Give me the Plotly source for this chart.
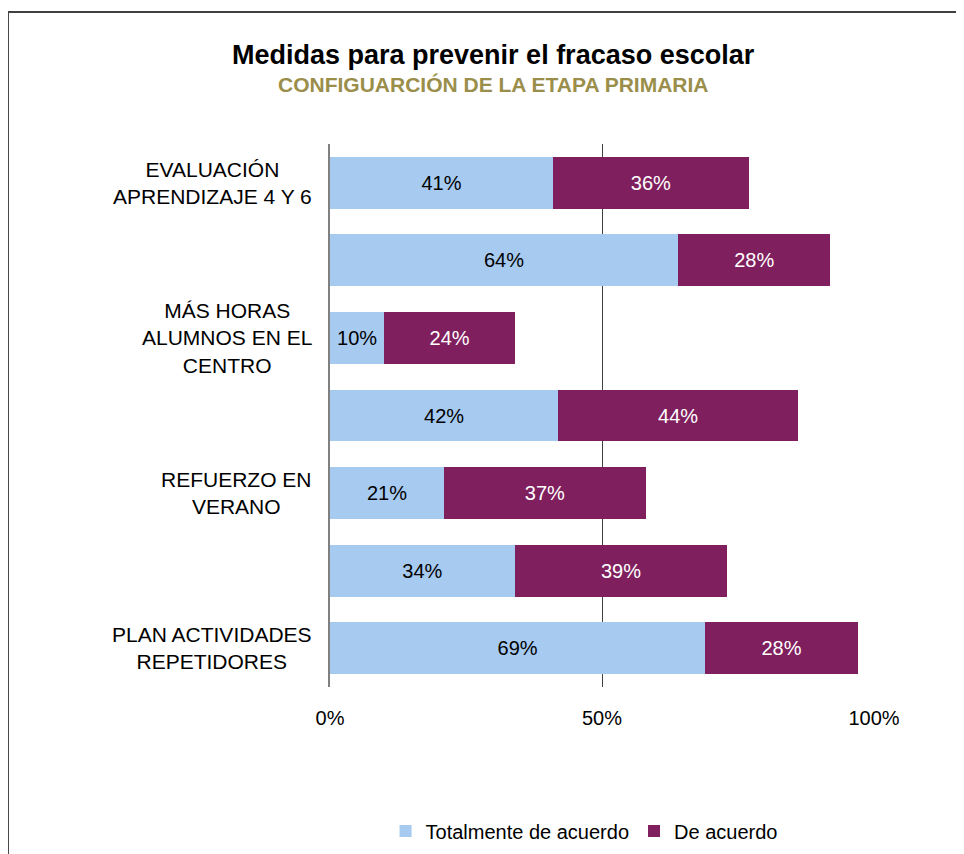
import plotly.graph_objects as go

# ---- data ----
category_labels = [
    "EVALUACIÓN<br>APRENDIZAJE 4 Y 6",
    "",
    "MÁS HORAS<br>ALUMNOS EN EL<br>CENTRO",
    "",
    "REFUERZO EN<br>VERANO",
    "",
    "PLAN ACTIVIDADES<br>REPETIDORES",
]
totalmente = [41, 64, 10, 42, 21, 34, 69]
de_acuerdo = [36, 28, 24, 44, 37, 39, 28]
x_ticks = [0, 50, 100]
x_ticklabels = ["0%", "50%", "100%"]

positions = list(range(len(category_labels)))

FONT = "Liberation Sans, Arial, sans-serif"
LIGHT = "#A6CAF0"
PURPLE = "#801F5E"

fig = go.Figure()
fig.add_trace(go.Bar(
    y=positions, x=totalmente, orientation="h", name="Totalmente de acuerdo",
    marker=dict(color=LIGHT, line=dict(width=0)),
    texttemplate="%{x:.0f}%", textposition="inside", insidetextanchor="middle",
    constraintext="none",
    textfont=dict(family=FONT, size=20, color="#000000"),
    hoverinfo="skip",
))
fig.add_trace(go.Bar(
    y=positions, x=de_acuerdo, orientation="h", name="De acuerdo",
    marker=dict(color=PURPLE, line=dict(width=0)),
    texttemplate="%{x:.0f}%", textposition="inside", insidetextanchor="middle",
    constraintext="none",
    textfont=dict(family=FONT, size=20, color="#FFFFFF"),
    hoverinfo="skip",
))

annotations = []
for pos, lab in zip(positions, category_labels):
    if lab:
        annotations.append(dict(
            xref="paper", yref="y", x=0, y=pos, xshift=-16,
            xanchor="right", yanchor="middle", align="center",
            text=lab, showarrow=False,
            font=dict(family=FONT, size=21, color="#000000"),
        ))
annotations.append(dict(
    xref="paper", yref="paper", x=0.301, y=1.164, xanchor="center", yanchor="middle",
    text="<b>Medidas para prevenir el fracaso escolar</b>", showarrow=False,
    font=dict(family=FONT, size=27, color="#000000"),
))
annotations.append(dict(
    xref="paper", yref="paper", x=0.301, y=1.109, xanchor="center", yanchor="middle",
    text="<b>CONFIGUARCIÓN DE LA ETAPA PRIMARIA</b>", showarrow=False,
    font=dict(family=FONT, size=21, color="#9A8E4A"),
))

fig.update_layout(
    width=956, height=846,
    margin=dict(l=322, r=90, t=136, b=167, autoexpand=False),
    paper_bgcolor="white", plot_bgcolor="white",
    barmode="stack", bargap=0.33,
    font=dict(family=FONT, size=20, color="#000000"),
    showlegend=True,
    legend=dict(
        orientation="h", x=0.467, y=-0.265, xanchor="center", yanchor="middle",
        traceorder="normal",
        font=dict(family=FONT, size=20, color="#000000"),
        itemwidth=30, tracegroupgap=0,
    ),
    annotations=annotations,
    shapes=[dict(
        type="rect", xref="paper", yref="paper",
        x0=-0.592, x1=1.158, y0=-0.34, y1=1.243,
        line=dict(color="#404040", width=2), fillcolor="rgba(0,0,0,0)", layer="below",
    )],
)
fig.update_xaxes(
    range=[0, 100], tickvals=x_ticks, ticktext=x_ticklabels,
    showgrid=True, gridcolor="#404040", gridwidth=1,
    zeroline=False, showline=False, ticks="",
    ticklabelstandoff=17,
    tickfont=dict(family=FONT, size=20, color="#000000"),
    fixedrange=True,
)
fig.update_yaxes(
    range=[len(category_labels) - 0.5, -0.5],
    tickvals=positions, showticklabels=False, ticks="",
    showgrid=False, zeroline=False,
    showline=True, linecolor="#808080", linewidth=2,
    fixedrange=True,
)

fig.write_html("out.html")
